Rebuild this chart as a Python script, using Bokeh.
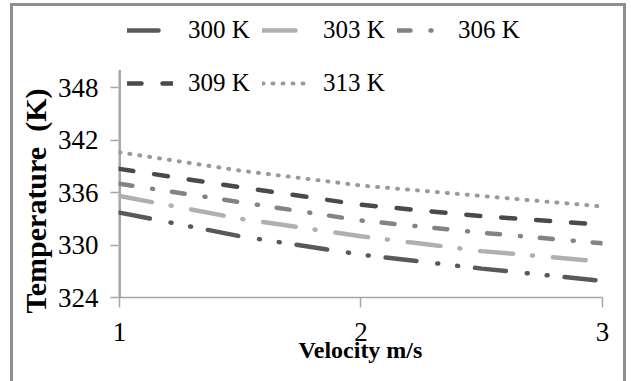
from bokeh.plotting import figure
from bokeh.models import Range1d, FixedTicker, Legend, LegendItem, Title
from bokeh.embed import file_html
from bokeh.resources import INLINE

# ---- data ----
velocity = [1, 1.5, 2, 2.5, 3]
t_300 = [333.7, 331.0, 328.9, 327.3, 325.9]
t_303 = [335.6, 333.0, 331.0, 329.3, 328.1]
t_306 = [337.0, 334.9, 332.8, 331.4, 330.2]
t_309 = [338.7, 336.6, 334.6, 333.3, 332.3]
t_313 = [340.6, 338.5, 336.8, 335.6, 334.4]
series_names = ["300 K", "303 K", "306 K", "309 K", "313 K"]
y_ticks = [324, 330, 336, 342, 348]
x_ticks = [1, 2, 3]
y_axis_top = 350

styles = [
    dict(color="#595959", dash="31 21 1 19 1 17", width=4.5),
    dict(color="#b0b0b0", dash="33 19 1 20", width=4.5),
    dict(color="#838383", dash="13 20 1 19", width=4.5),
    dict(color="#4a4a4a", dash="14 21", width=4.5),
    dict(color="#9a9a9a", dash="1 9", width=4),
]

SERIF = "Liberation Serif"
AXIS_GRAY = "#a6a6a6"

p = figure(width=610, height=375, output_backend="svg", toolbar_location=None,
           x_range=Range1d(0.996, 3), y_range=Range1d(324, 357.03),
           min_border_left=105, min_border_right=21, min_border_top=2,
           min_border_bottom=84, margin=(6, 0, 0, 13),
           styles={"outline": "3px solid #8f8f8f"})
p.outline_line_color = None
p.grid.visible = False
p.background_fill_color = "white"
p.border_fill_color = "white"

for ax in (p.xaxis[0], p.yaxis[0]):
    ax.axis_line_color = AXIS_GRAY
    ax.axis_line_width = 1.5
    ax.major_tick_line_color = AXIS_GRAY
    ax.major_tick_line_width = 1.5
    ax.major_tick_in = 0
    ax.minor_tick_line_color = None
    ax.major_label_text_font = SERIF
    ax.major_label_text_font_size = "27px"
    ax.major_label_text_color = "black"
    ax.axis_label_text_font = SERIF
    ax.axis_label_text_font_style = "bold"
    ax.axis_label_text_color = "black"

p.yaxis.axis_line_color = None
p.segment(x0=[1], y0=[y_ticks[0]], x1=[1], y1=[y_axis_top],
          line_color=AXIS_GRAY, line_width=3)

p.xaxis.ticker = FixedTicker(ticks=x_ticks)
p.yaxis.ticker = FixedTicker(ticks=y_ticks)
p.xaxis.major_tick_out = 10
p.yaxis.major_tick_out = 8
p.xaxis.major_label_standoff = 15
p.yaxis.major_label_standoff = 12
p.xaxis.axis_label = "Velocity m/s"
p.xaxis.axis_label_text_font_size = "24px"
p.xaxis.axis_label_standoff = -7

y_title = Title(text="Temperature\u00a0\u00a0(K)", align="left", offset=-16,
                text_font=SERIF, text_font_style="bold", text_font_size="30px",
                text_color="black", standoff=6)
p.add_layout(y_title, "left")

items = []
for name, ys, st in zip(series_names, [t_300, t_303, t_306, t_309, t_313], styles):
    r = p.line(velocity, ys, line_color=st["color"], line_width=st["width"],
               line_dash=st["dash"], line_cap="round")
    items.append(LegendItem(label=name, renderers=[r]))

legend = Legend(items=items, location=(9, 194), ncols=3, orientation="horizontal",
                glyph_width=46, glyph_height=20, label_standoff=15, label_width=62,
                label_height=41, spacing=12, padding=0, margin=0,
                label_text_font=SERIF, label_text_font_size="25px",
                label_text_color="black", border_line_color=None,
                background_fill_alpha=0)
p.add_layout(legend, "center")

open("out.html", "w").write(file_html(p, INLINE))
